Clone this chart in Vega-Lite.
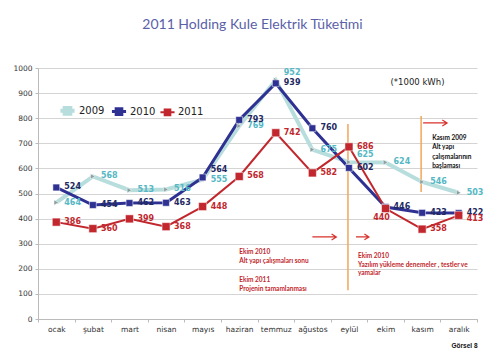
{
  "$schema": "https://vega.github.io/schema/vega-lite/v6.json",
  "width": 439,
  "height": 251,
  "autosize": {"type": "none"},
  "padding": {"left": 38, "top": 68, "right": 25, "bottom": 40},
  "background": "white",
  "config": {
    "view": {"stroke": null},
    "axisY": {"labelOverlap": false, "gridColor": "#d4d4d4", "tickColor": "#bbb", "tickSize": 3, "domainColor": "#bbb", "labelFont": "DejaVu Sans", "labelFontSize": 7.5, "labelColor": "#333", "labelPadding": 3, "tickCount": 10}
  },
  "title": {"text": "2011 Holding Kule Elektrik Tüketimi", "font": "Lato", "fontSize": 14, "fontWeight": "normal", "color": "#5a61a8", "anchor": "middle", "dx": -5, "offset": 32},
  "datasets": {
    "energy": [
      {"month": "ocak", "year": "2009", "value": 464}, {"month": "şubat", "year": "2009", "value": 568}, {"month": "mart", "year": "2009", "value": 513}, {"month": "nisan", "year": "2009", "value": 516}, {"month": "mayıs", "year": "2009", "value": 555}, {"month": "haziran", "year": "2009", "value": 769}, {"month": "temmuz", "year": "2009", "value": 952}, {"month": "ağustos", "year": "2009", "value": 675}, {"month": "eylül", "year": "2009", "value": 625}, {"month": "ekim", "year": "2009", "value": 624}, {"month": "kasım", "year": "2009", "value": 546}, {"month": "aralık", "year": "2009", "value": 503},
      {"month": "ocak", "year": "2010", "value": 524}, {"month": "şubat", "year": "2010", "value": 454}, {"month": "mart", "year": "2010", "value": 462}, {"month": "nisan", "year": "2010", "value": 463}, {"month": "mayıs", "year": "2010", "value": 564}, {"month": "haziran", "year": "2010", "value": 793}, {"month": "temmuz", "year": "2010", "value": 939}, {"month": "ağustos", "year": "2010", "value": 760}, {"month": "eylül", "year": "2010", "value": 602}, {"month": "ekim", "year": "2010", "value": 446}, {"month": "kasım", "year": "2010", "value": 423}, {"month": "aralık", "year": "2010", "value": 422},
      {"month": "ocak", "year": "2011", "value": 386}, {"month": "şubat", "year": "2011", "value": 360}, {"month": "mart", "year": "2011", "value": 399}, {"month": "nisan", "year": "2011", "value": 368}, {"month": "mayıs", "year": "2011", "value": 448}, {"month": "haziran", "year": "2011", "value": 568}, {"month": "temmuz", "year": "2011", "value": 742}, {"month": "ağustos", "year": "2011", "value": 582}, {"month": "eylül", "year": "2011", "value": 686}, {"month": "ekim", "year": "2011", "value": 440}, {"month": "kasım", "year": "2011", "value": 358}, {"month": "aralık", "year": "2011", "value": 413}
    ],
    "vlines": [
      {"month": "eylül", "value": 777, "bottom": 115},
      {"month": "kasım", "value": 809, "bottom": 506}
    ],
    "arrows": [
      {"id": "a1", "month": "ağustos", "value": 327},
      {"id": "a2", "month": "eylül", "value": 327},
      {"id": "a3", "month": "kasım", "value": 781}
    ],
    "notes": [
      {"id": "n1", "month": "haziran", "value": 277, "text": "Ekim 2010\nAlt yapı çalışmaları sonu"},
      {"id": "n2", "month": "haziran", "value": 169, "text": "Ekim 2011\nProjenin tamamlanması"},
      {"id": "n3", "month": "eylül", "value": 261, "text": "Ekim 2010\nYazılım yükleme denemeler , testler ve\nyamalar"},
      {"id": "n4", "month": "kasım", "value": 735, "text": "Kasım 2009\nAlt yapı\nçalışmalarının\nbaşlaması"},
      {"id": "n5", "month": "ekim", "value": 944, "text": "(*1000 kWh)"}
    ]
  },
  "encoding": {
    "x": {"field": "month", "type": "ordinal", "bandPosition": 0.5,
      "sort": ["ocak", "şubat", "mart", "nisan", "mayıs", "haziran", "temmuz", "ağustos", "eylül", "ekim", "kasım", "aralık"],
      "scale": {"type": "band", "paddingInner": 0, "paddingOuter": 0, "domain": ["ocak", "şubat", "mart", "nisan", "mayıs", "haziran", "temmuz", "ağustos", "eylül", "ekim", "kasım", "aralık"]},
      "axis": {"title": "Görsel 8", "titleAnchor": "end", "titleFont": "Liberation Sans", "titleFontSize": 6.5, "titleFontWeight": "bold", "titleColor": "#111", "titlePadding": 10, "labelAngle": 0, "labelFont": "DejaVu Sans", "labelFontSize": 7.5, "labelColor": "#333", "tickBand": "extent", "tickColor": "#bbb", "tickSize": 3, "domainColor": "#bbb", "labelPadding": 3, "grid": false}},
    "y": {"field": "value", "type": "quantitative", "scale": {"domain": [0, 1000], "nice": false},
      "axis": {"title": null, "tickCount": 10, "tickMinStep": 100, "format": "d", "labelOverlap": false, "grid": true}}
  },
  "layer": [
    {
      "data": {"name": "energy"},
      "mark": {"type": "line"},
      "encoding": {
        "color": {"field": "year", "type": "nominal",
          "scale": {"domain": ["2009", "2010", "2011"], "range": ["#b7dddd", "#2e3192", "#c1272d"]},
          "legend": {"title": null, "orient": "none", "legendX": 20, "legendY": 33, "direction": "horizontal", "symbolType": "M-1,0H1M-0.4,-0.4H0.4V0.4H-0.4Z", "symbolSize": 200, "symbolStrokeWidth": 2, "labelFont": "DejaVu Sans", "labelFontSize": 10, "labelColor": "#222", "labelOffset": 2, "columnPadding": 0,
            "encode": {"symbols": {"update": {"fill": {"scale": "color", "field": "value"}, "opacity": {"value": 1}}}}}},
        "strokeWidth": {"field": "year", "type": "nominal", "scale": {"domain": ["2009", "2010", "2011"], "range": [4, 2, 1.8]}, "legend": null}
      }
    },
    {
      "data": {"name": "vlines"},
      "mark": {"type": "rule", "color": "#f2a65a", "strokeWidth": 1.5, "xOffset": -1},
      "encoding": {
        "y2": {"field": "bottom"}
      }
    },
    {
      "data": {"name": "energy"},
      "mark": {"type": "point", "filled": true, "opacity": 1, "stroke": "#ffffff", "strokeWidth": 0.5},
      "encoding": {
        "fill": {"field": "year", "type": "nominal", "scale": {"domain": ["2009", "2010", "2011"], "range": ["#8a9e9e", "#2e3192", "#c1272d"]}, "legend": null},
        "shape": {"field": "year", "type": "nominal", "scale": {"domain": ["2009", "2010", "2011"], "range": ["triangle-right", "square", "square"]}, "legend": null},
        "size": {"field": "year", "type": "nominal", "scale": {"domain": ["2009", "2010", "2011"], "range": [28, 64, 42]}, "legend": null}
      }
    },
    {
      "data": {"name": "energy"},
      "transform": [{"filter": "!((datum.year=='2009' && (datum.month=='temmuz' || datum.month=='eylül')) || (datum.year=='2010' && datum.month=='mayıs') || (datum.year=='2011' && (datum.month=='ekim' || datum.month=='aralık')))"}],
      "mark": {"type": "text", "align": "left", "baseline": "middle", "dx": 8, "font": "DejaVu Sans", "fontSize": 8, "fontWeight": "bold"},
      "encoding": {
        "text": {"field": "value", "type": "quantitative"},
        "fill": {"field": "year", "type": "nominal", "scale": {"domain": ["2009", "2010", "2011"], "range": ["#55b8c4", "#1f2a63", "#c1272d"]}, "legend": null}
      }
    },
    {
      "data": {"name": "energy"},
      "transform": [{"filter": "(datum.year=='2009' && (datum.month=='temmuz' || datum.month=='eylül')) || (datum.year=='2010' && datum.month=='mayıs')"}],
      "mark": {"type": "text", "align": "left", "baseline": "middle", "dx": 8, "dy": -7, "font": "DejaVu Sans", "fontSize": 8, "fontWeight": "bold"},
      "encoding": {
        "text": {"field": "value", "type": "quantitative"},
        "fill": {"field": "year", "type": "nominal", "scale": {"domain": ["2009", "2010", "2011"], "range": ["#55b8c4", "#1f2a63", "#c1272d"]}, "legend": null}
      }
    },
    {
      "data": {"name": "energy"},
      "transform": [{"filter": "datum.year=='2011' && datum.month=='ekim'"}],
      "mark": {"type": "text", "align": "center", "baseline": "middle", "dx": -4, "dy": 9, "font": "DejaVu Sans", "fontSize": 8, "fontWeight": "bold", "color": "#c1272d"},
      "encoding": {
        "text": {"field": "value", "type": "quantitative"}
      }
    },
    {
      "data": {"name": "energy"},
      "transform": [{"filter": "datum.year=='2011' && datum.month=='aralık'"}],
      "mark": {"type": "text", "align": "left", "baseline": "middle", "dx": 8, "dy": 4, "font": "DejaVu Sans", "fontSize": 8, "fontWeight": "bold", "color": "#c1272d"},
      "encoding": {
        "text": {"field": "value", "type": "quantitative"}
      }
    },
    {
      "data": {"name": "notes"},
      "transform": [{"filter": "datum.id=='n1' || datum.id=='n2'"}],
      "mark": {"type": "text", "align": "left", "baseline": "top", "lineBreak": "\n", "lineHeight": 9, "font": "Lato", "fontSize": 6.5, "fontWeight": "bold", "color": "#c1272d"},
      "encoding": {
        "text": {"field": "text"}
      }
    },
    {
      "data": {"name": "notes"},
      "transform": [{"filter": "datum.id=='n3'"}],
      "mark": {"type": "text", "align": "left", "baseline": "top", "dx": 9, "lineBreak": "\n", "lineHeight": 8.5, "font": "Lato", "fontSize": 6.5, "fontWeight": "bold", "color": "#c1272d"},
      "encoding": {
        "text": {"field": "text"}
      }
    },
    {
      "data": {"name": "notes"},
      "transform": [{"filter": "datum.id=='n4'"}],
      "mark": {"type": "text", "align": "left", "baseline": "top", "dx": 10, "lineBreak": "\n", "lineHeight": 9.5, "font": "Lato", "fontSize": 6.5, "fontWeight": "bold", "color": "#111"},
      "encoding": {
        "text": {"field": "text"}
      }
    },
    {
      "data": {"name": "notes"},
      "transform": [{"filter": "datum.id=='n5'"}],
      "mark": {"type": "text", "align": "left", "baseline": "middle", "dx": 5, "font": "DejaVu Sans", "fontSize": 8.5, "color": "#222"},
      "encoding": {
        "text": {"field": "text"}
      }
    },
    {
      "data": {"name": "arrows"},
      "transform": [{"filter": "datum.id=='a1'"}],
      "mark": {"type": "point", "shape": "M-1,0H1M0.6,-0.25L1,0L0.6,0.25", "filled": false, "size": 576, "strokeWidth": 1.2, "color": "#d8322c", "opacity": 1, "xOffset": 12},
      "encoding": {}
    },
    {
      "data": {"name": "arrows"},
      "transform": [{"filter": "datum.id=='a2'"}],
      "mark": {"type": "point", "shape": "M-1,0H1M0.3,-0.45L1,0L0.3,0.45", "filled": false, "size": 169, "strokeWidth": 1.2, "color": "#d8322c", "opacity": 1, "xOffset": 13.5},
      "encoding": {}
    },
    {
      "data": {"name": "arrows"},
      "transform": [{"filter": "datum.id=='a3'"}],
      "mark": {"type": "point", "shape": "M-1,0H1M0.6,-0.25L1,0L0.6,0.25", "filled": false, "size": 576, "strokeWidth": 1.2, "color": "#d8322c", "opacity": 1, "xOffset": 13},
      "encoding": {}
    }
  ],
  "resolve": {"scale": {"fill": "independent", "shape": "independent", "size": "independent"}}
}
